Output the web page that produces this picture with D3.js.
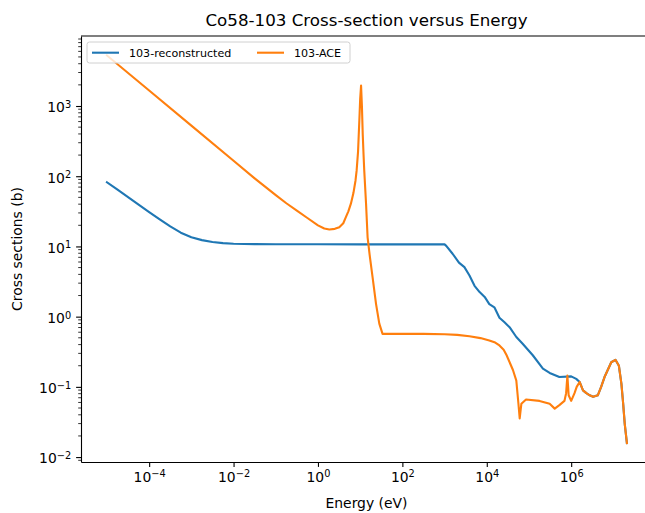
<!DOCTYPE html>
<html>
<head>
<meta charset="utf-8">
<script src="https://cdn.jsdelivr.net/npm/d3@7"></script>
<style>
body { margin: 0; background: #fff; }
</style>
</head>
<body>
<div id="chart"></div>
<script>
// values (energy in eV, cross section in barns)
var reconE = [1e-5, 1.78e-5, 3.16e-5, 5.62e-5, 1e-4, 1.78e-4, 3.16e-4, 5.62e-4, 1e-3, 1.78e-3,
	3.16e-3, 5.62e-3, 0.01, 0.0316, 0.1, 1, 10, 100, 1000,
	1096, 1549, 2188, 2951, 3890, 5129, 6761, 8913, 11480, 15136, 19953, 26303, 34674,
	50119, 70795, 123027, 213796, 309030, 524807, 1.0e6, 1.318e6];
var reconXS = [82, 64.3, 50.4, 39.4, 30.9, 24.3, 19.3, 15.7, 13.5, 12.3,
	11.56, 11.14, 10.94, 10.8, 10.74, 10.72, 10.7, 10.7, 10.7,
	10.2, 7.87, 5.89, 5.07, 3.86, 2.75, 2.24, 1.91, 1.51, 1.36, 0.964, 0.832, 0.708,
	0.513, 0.411, 0.282, 0.182, 0.158, 0.138, 0.141, 0.130];

var aceE = [1e-5, 1e-4, 1e-3, 0.01, 0.0316, 0.1, 0.178, 0.316, 0.562, 1, 1.41, 1.86, 2.51,
	3.2, 3.98, 4.61, 5.25, 6.03, 6.92, 7.76, 8.24, 8.91, 9.55, 10.0, 10.5, 11.0, 11.5,
	12.0, 12.5, 13.8, 15.0, 17.0, 19.7, 23.8, 28.4, 33.9, 316, 1000, 1995, 3890, 7079,
	11480, 15849, 19953, 25119, 29512, 41687, 50119,
	56234, 60256, 66069, 85114, 177828, 309030, 407380, 524807, 691831, 758578, 812831,
	870964, 1.0e6, 1.2e6, 1.35e6];
var aceXS = [5250, 1660, 525, 166, 93.3, 53.7, 41.2, 32.4, 25.4, 19.95, 18.0, 17.4, 17.8,
	18.8, 21.4, 26.3, 31.6, 40.7, 57.5, 87, 120, 224, 617, 1260, 1950, 1000, 398,
	209, 120, 39.8, 13.5, 7.08, 3.63, 1.51, 0.794, 0.569, 0.568, 0.562, 0.55, 0.525, 0.495,
	0.457, 0.427, 0.389, 0.339, 0.282, 0.174, 0.123,
	0.0575, 0.0355, 0.0575, 0.0661, 0.0631, 0.0575, 0.049, 0.055, 0.0631, 0.0813, 0.145,
	0.0759, 0.0631, 0.0813, 0.1];

// above ~1.5 MeV both curves coincide
var tailE = [1.585e6, 1.905e6, 2.29e6, 2.75e6, 3.31e6, 4.27e6, 5.13e6, 6.17e6, 8.91e6,
	1.12e7, 1.35e7, 1.55e7, 1.70e7, 1.86e7, 2.09e7];
var tailXS = [0.1175, 0.0891, 0.0813, 0.0759, 0.0724, 0.0759, 0.1, 0.138, 0.224,
	0.243, 0.20, 0.11, 0.0589, 0.0295, 0.0158];

var seriesNames = ["103-reconstructed", "103-ACE"];
var colors = ["#1f77b4", "#ff7f0e"];
var xTicks = [1e-4, 1e-2, 1, 1e2, 1e4, 1e6];
var yTicks = [1e-2, 1e-1, 1, 1e1, 1e2, 1e3];

var width = 645;
var height = 513;
var margins = { left: 81, right: -7, top: 36, bottom: 51 };
var fontFamily = "DejaVu Sans, sans-serif";

var svg = d3
	.select("#chart")
	.append("svg")
	.attr("width", width)
	.attr("height", height)
	.style("display", "block");

svg.append("rect").attr("width", width).attr("height", height).attr("fill", "#fff");

var chartWidth = width - margins.left - margins.right;
var chartHeight = height - margins.top - margins.bottom;

var xscale = d3
	.scaleLog()
	.domain([Math.pow(10, -5.615), Math.pow(10, 7.915)])
	.range([0, chartWidth]);
var yscale = d3
	.scaleLog()
	.domain([Math.pow(10, -2.07), Math.pow(10, 3.997)])
	.range([chartHeight, 0]);

var chartGroup = svg
	.append("g")
	.attr("transform", `translate(${margins.left},${margins.top})`);

chartGroup
	.append("clipPath")
	.attr("id", "plotclip")
	.append("rect")
	.attr("width", chartWidth)
	.attr("height", chartHeight);

function toPoints(es, xs) {
	return es.map((e, i) => ({ e: e, s: xs[i] }));
}

var series = [
	toPoints(reconE.concat(tailE), reconXS.concat(tailXS)),
	toPoints(aceE.concat(tailE), aceXS.concat(tailXS)),
];

var line = d3
	.line()
	.x((d) => xscale(d.e))
	.y((d) => yscale(d.s));

var lineGroup = chartGroup.append("g").attr("clip-path", "url(#plotclip)");
series.forEach(function (pts, i) {
	lineGroup
		.append("path")
		.datum(pts)
		.attr("d", line)
		.attr("fill", "none")
		.attr("stroke", colors[i])
		.attr("stroke-width", 2.1)
		.attr("stroke-linejoin", "round")
		.attr("stroke-linecap", "square");
});

// superscript tick labels like 10^-4
function powerLabel(sel) {
	sel.each(function (d) {
		var t = d3.select(this);
		var p = Math.round(Math.log10(d));
		t.text(null);
		t.append("tspan").text("10");
		t.append("tspan")
			.attr("dy", "-0.45em")
			.attr("font-size", "9.8px")
			.text(p < 0 ? "\u2212" + -p : "" + p);
	});
}

var xaxis = chartGroup
	.append("g")
	.attr("transform", `translate(0,${chartHeight})`)
	.call(d3.axisBottom(xscale).tickValues(xTicks).tickSize(4.9).tickSizeOuter(0).tickPadding(5));
xaxis.selectAll(".tick text")
	.attr("font-family", fontFamily)
	.attr("font-size", "13.9px")
	.attr("fill", "#000")
	.call(powerLabel);

var yaxis = chartGroup
	.append("g")
	.call(d3.axisLeft(yscale).tickValues(yTicks).tickSize(4.9).tickSizeOuter(0).tickPadding(4.9));
yaxis.selectAll(".tick text")
	.attr("font-family", fontFamily)
	.attr("font-size", "13.9px")
	.attr("fill", "#000")
	.attr("dy", "0.42em")
	.call(powerLabel);

// minor ticks on the y axis
var yMinor = [];
for (var p = -3; p <= 3; p++) {
	for (var k = 2; k <= 9; k++) {
		var v = k * Math.pow(10, p);
		if (v > yscale.domain()[0] && v < yscale.domain()[1]) yMinor.push(v);
	}
}
yaxis
	.selectAll(".minor")
	.data(yMinor)
	.enter()
	.append("line")
	.attr("class", "minor")
	.attr("x1", 0)
	.attr("x2", -2.8)
	.attr("y1", (d) => yscale(d))
	.attr("y2", (d) => yscale(d))
	.attr("stroke", "#000")
	.attr("stroke-width", 0.8);

chartGroup.selectAll(".domain").attr("stroke-width", 1.1);
chartGroup.selectAll(".tick line").attr("stroke-width", 1.1);

// top spine
chartGroup
	.append("line")
	.attr("x1", 0)
	.attr("x2", chartWidth)
	.attr("y1", 0)
	.attr("y2", 0)
	.attr("stroke", "#000")
	.attr("stroke-width", 1.1);

// legend
var legend = chartGroup.append("g").attr("transform", "translate(6,6)");
legend
	.append("rect")
	.attr("width", 263)
	.attr("height", 21)
	.attr("rx", 2.5)
	.attr("fill", "#fff")
	.attr("fill-opacity", 0.8)
	.attr("stroke", "#d0d0d0")
	.attr("stroke-width", 1);
var legendX = [5, 170];
seriesNames.forEach(function (name, i) {
	legend
		.append("line")
		.attr("x1", legendX[i])
		.attr("x2", legendX[i] + 27)
		.attr("y1", 10.7)
		.attr("y2", 10.7)
		.attr("stroke", colors[i])
		.attr("stroke-width", 2.1);
	legend
		.append("text")
		.attr("x", legendX[i] + 37)
		.attr("y", 14.8)
		.attr("font-family", fontFamily)
		.attr("font-size", "11.1px")
		.attr("fill", "#000")
		.text(name);
});

// titles
var midX = margins.left + chartWidth / 2;
svg.append("text")
	.attr("x", midX)
	.attr("y", 26)
	.attr("text-anchor", "middle")
	.attr("font-family", fontFamily)
	.attr("font-size", "16.7px")
	.attr("fill", "#000")
	.text("Co58-103 Cross-section versus Energy");

svg.append("text")
	.attr("x", midX)
	.attr("y", 508)
	.attr("text-anchor", "middle")
	.attr("font-family", fontFamily)
	.attr("font-size", "13.9px")
	.attr("fill", "#000")
	.text("Energy (eV)");

svg.append("text")
	.attr("transform", `translate(22,${margins.top + chartHeight / 2}) rotate(-90)`)
	.attr("text-anchor", "middle")
	.attr("font-family", fontFamily)
	.attr("font-size", "13.9px")
	.attr("fill", "#000")
	.text("Cross sections (b)");
</script>
</body>
</html>
